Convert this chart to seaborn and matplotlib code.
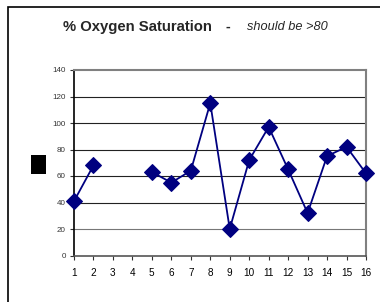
#!/usr/bin/env python3
"""
Recreate the % Oxygen Saturation line chart.
"""

import numpy as np
import pandas as pd
import matplotlib
matplotlib.use("Agg")
import matplotlib.pyplot as plt
from matplotlib.patches import Rectangle
import seaborn as sns

# Data (readings 3 and 4 are missing)
readings = list(range(1, 17))
saturation = [41, 68, np.nan, np.nan, 63, 55, 64, 115, 20, 72, 97, 65, 32, 75, 82, 62]
y_ticks = [0, 20, 40, 60, 80, 100, 120, 140]

sns.set_style("white")
plt.rcParams["font.family"] = ["Liberation Sans", "DejaVu Sans"]

df = pd.DataFrame({"reading": readings, "saturation": saturation})
# split the series where values are missing so the line breaks there
df["segment"] = df["saturation"].isna().cumsum()
df = df.dropna()

fig = plt.figure(figsize=(3.8, 3.02), dpi=100)
ax = fig.add_axes([74 / 380, 1 - 255.5 / 302, (366 - 74) / 380, (255.5 - 70) / 302])

navy = "#000080"
sns.lineplot(data=df, x="reading", y="saturation", units="segment", estimator=None,
             color=navy, linewidth=1.3, marker="D", markersize=8,
             markeredgecolor=navy, markerfacecolor=navy, clip_on=False, ax=ax, zorder=5)

ax.set_xlim(1, 16)
ax.set_ylim(0, 140)
ax.set_xticks(readings)
ax.set_yticks(y_ticks)
ax.set_xlabel("")
ax.set_ylabel("")

for v in y_ticks[1:-1]:
    ax.axhline(v, color="#222222" if v > 20 else "#777777", linewidth=0.8, zorder=1)

for side in ["top", "right"]:
    ax.spines[side].set_color("#808080")
    ax.spines[side].set_linewidth(1.5)
ax.spines["left"].set_color("black")
ax.spines["left"].set_linewidth(1.2)
ax.spines["bottom"].set_color("#555555")
ax.spines["bottom"].set_linewidth(1.2)

ax.tick_params(axis="y", which="both", left=True, length=3, width=0.8, labelsize=5.8, pad=3, colors="#333333")
ax.tick_params(axis="x", which="both", bottom=True, length=3, width=0.8, labelsize=7.2, pad=6, labelcolor="black", color="#333333")

# title with bold and italic parts
fig.text(63 / 380, 0.91, "% Oxygen Saturation", fontsize=10.7, fontweight="bold", ha="left", va="center")
fig.text(228 / 380, 0.91, "-", fontsize=10.2, fontweight="bold", ha="center", va="center")
fig.text(247 / 380, 0.912, "should be >80", fontsize=9.2, style="italic", ha="left", va="center")

# black box left of the axis and outer frame
fig.patches.append(Rectangle((31 / 380, 1 - 174 / 302), 15 / 380, 19 / 302,
                             transform=fig.transFigure, facecolor="black", edgecolor="none"))
fig.patches.append(Rectangle((8 / 380, -0.1), 1.2, 1 - 7 / 302 + 0.1,
                             transform=fig.transFigure, facecolor="none", edgecolor="black", linewidth=1.2))

fig.savefig("out.png", dpi=100)
